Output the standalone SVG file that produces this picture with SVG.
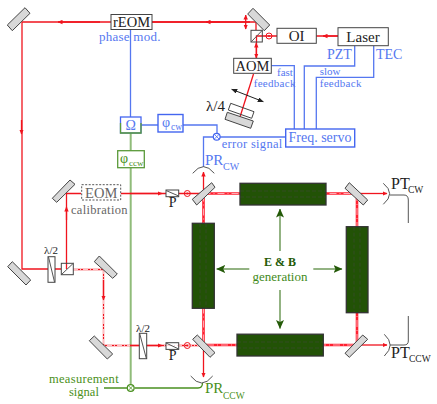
<svg xmlns="http://www.w3.org/2000/svg" width="437" height="404" viewBox="0 0 437 404">
<style>
text{font-family:"Liberation Serif","DejaVu Serif",serif}
.m{fill:#d8d8d8;stroke:#444;stroke-width:1}
.o{fill:#fff;stroke:#444;stroke-width:1}
.r{fill:none;stroke:#f0141e;stroke-width:1.3}
.rd{fill:none;stroke:#ffd0d4;stroke-width:.9;stroke-dasharray:5 2 1 2}
.ring{fill:none;stroke:#ff2030;stroke-width:2.6}
.ringd{fill:none;stroke:#ffb8c0;stroke-width:.9;stroke-dasharray:7 3 1 3}
.b{fill:none;stroke:#5577f0;stroke-width:1.3}
.bb{fill:#fff;stroke:#4466f0;stroke-width:1.4}
.g{fill:none;stroke:#4a9020;stroke-width:1.3}
.gl{fill:none;stroke:#90bc7a;stroke-width:2}
.k{fill:none;stroke:#555;stroke-width:1}
.bar{fill:#225206;stroke:#333;stroke-width:1.3}
.bd{fill:none;stroke:#3a4a30;stroke-width:.7;stroke-dasharray:4 2}
.ga{stroke:#6f9a5a;stroke-width:1.5;fill:none;marker-end:url(#ga)}
.tb{fill:#5577f0}.tg{fill:#4a9020}.tk{fill:#222}.tn{fill:#666}
</style>
<defs>
<marker id="ra" markerWidth="5" markerHeight="5" refX="4.5" refY="2.5" orient="auto-start-reverse" markerUnits="userSpaceOnUse"><path d="M0 .3L5 2.5L0 4.7z" fill="#f0141e"/></marker>
<marker id="ka" markerWidth="6" markerHeight="5" refX="5.5" refY="2.5" orient="auto-start-reverse" markerUnits="userSpaceOnUse"><path d="M0 0L6 2.5L0 5z" fill="#222"/></marker>
<marker id="ga" markerWidth="9" markerHeight="9" refX="8.5" refY="4.5" orient="auto" markerUnits="userSpaceOnUse"><path d="M0 .5L9 4.5L0 8.5L2 4.5z" fill="#245a08"/></marker>
</defs>
<g id="connectors">
<path class="gl" d="M130.7 133V388"/>
<path class="b" d="M130.5 29V117M141 125H158M183 125H217V133M285.7 137H220M213 137H203.5V167"/>
<path class="b" d="M271.3 65.7H294.3V130M354.7 45.7V66H304.3V130M373.7 45.7V77.3H316.3V130"/>
<path class="g" d="M104 388H127M134.5 388H198Q202.5 388 202.5 383"/>
<path class="r" d="M250 22H22V269H61M338 36H256.5V58" />
<path class="r" d="M256 22H152M256 22V30"/>
<path class="r" d="M66.5 269V193.5H81M120.7 193.5H166M178.7 193.5H203.5"/>
<path class="r" d="M73 269.5H103.5V345.5H139M147 345.5H166M178.7 345.5H203.5"/>
<path class="rd" d="M73 269.5H103.5V345.5H203"/>
<path class="r" d="M253.5 74L240 117"/>
<path class="ring" d="M203.5 193.5H357V345H203.5Z"/>
<path class="ringd" d="M203.5 193.5H357V345H203.5Z"/>
<path class="r" d="M203.5 193.5V172" marker-end="url(#ra)"/>
<path class="r" d="M357 193.5H387" marker-end="url(#ra)"/>
<path class="r" d="M357 345H387" marker-end="url(#ra)"/>
<path class="r" d="M203.5 345V377" marker-end="url(#ra)"/>
<path d="M338 36H323" class="r" marker-end="url(#ra)"/>
<path d="M100 22H58" class="r" marker-end="url(#ra)"/>
<path d="M220 22H206" class="r" marker-end="url(#ra)"/>
<path d="M21.5 120V134" class="r" marker-end="url(#ra)"/>
<path d="M66.5 220V207" class="r" marker-end="url(#ra)"/>
<path d="M103.5 280V300" class="r" marker-end="url(#ra)"/>
<path d="M130 193.5H162" class="r" marker-end="url(#ra)"/>
<path d="M130 345.5H162" class="r" marker-end="url(#ra)"/>
<path d="M245.7 15V29" class="r" marker-start="url(#ra)" marker-end="url(#ra)"/>
<path d="M256.3 43V58" class="r" marker-start="url(#ra)" marker-end="url(#ra)"/>
<path d="M231.7 89.3L263.3 101.7" stroke="#222" stroke-width="1" fill="none" marker-start="url(#ka)" marker-end="url(#ka)"/>
<path class="k" d="M192.7 173.3Q203.5 160 214.3 173.3"/>
<path class="k" d="M190.7 376Q201.7 390 212.7 376"/>
<path class="k" d="M383.3 183.3Q396 193.5 383.3 204.3M390 195H404Q408.3 195 408.3 200V223"/>
<path class="k" d="M384.3 334.3Q396 345 384.3 356M390 345H404Q408.3 345 408.3 341V316"/>
<path class="ga" d="M280 251V209"/>
<path class="ga" d="M280 290V328.5"/>
<path class="ga" d="M249.3 269H216.7"/>
<path class="ga" d="M313.3 269H342"/>
</g>
<g id="mirrors">
<polygon class="m" points="7.3,25 25,7.7 30,13.3 12.3,30.7"/>
<polygon class="m" points="247.7,14 253,8.3 269.7,25 264.3,30.7"/>
<polygon class="m" points="227.3,112.3 253.3,121 250.7,128.3 225,119.3"/>
<polygon class="m" points="52.3,198.3 70,180 75,184.3 56.7,202.3"/>
<polygon class="m" points="7.7,266.7 12.3,261.7 30.7,280 26,285"/>
<polygon class="m" points="94.3,261.7 99.3,256 117.3,274 112.7,278.3"/>
<polygon class="m" points="89.3,340.7 94.3,336 112.7,354 107.3,359"/>
<polygon class="m" points="192.3,199.3 211.7,182.7 215,187.3 196.7,205"/>
<polygon class="m" points="345,188.3 349.3,182.7 367.7,200 363.3,205"/>
<polygon class="m" points="345,353.3 362.7,335 367.7,339.3 349.3,357.3"/>
<polygon class="m" points="192.7,339.3 197.3,335 215,352.7 210,357.3"/>
</g>
<g id="optics">
<g fill="none"><rect class="o" x="251" y="30.3" width="11.3" height="11.7" style="fill:none"/><path class="k" d="M251 42L262.3 30.3"/>
<rect class="o" x="61.3" y="263.3" width="12" height="11.4" style="fill:none"/><path class="k" d="M61.3 274.7L73.3 263.3"/></g>
<polygon class="o" points="230.7,103.3 254,111.7 251.7,118.3 228.3,110" style="fill:none"/>
<rect class="o" x="48" y="256.7" width="7" height="25.6"/><path class="k" d="M48.5 257L54.5 282"/>
<rect class="o" x="139.3" y="333.3" width="7.4" height="25.4"/><path class="k" d="M139.8 334L146.2 358"/>
<rect class="o" x="166" y="190" width="12.7" height="6.7" style="fill:none"/><path class="k" d="M166 190.5L178.7 196"/>
<rect class="o" x="166" y="342.7" width="12.7" height="6.7" style="fill:none"/><path class="k" d="M166 343L178.7 349"/>
<g fill="none" stroke="#f0141e" stroke-width="1"><circle cx="269" cy="36" r="3"/><circle cx="187.3" cy="193.5" r="3"/><circle cx="187.3" cy="345.5" r="3"/></g>
<g fill="#f0141e"><circle cx="269" cy="36" r="1"/><circle cx="187.3" cy="193.5" r="1"/><circle cx="187.3" cy="345.5" r="1"/></g>
</g>
<g id="rEOM"><rect class="o" x="111" y="14.5" width="41" height="15"/><text x="131.5" y="27" font-size="14.5" text-anchor="middle" class="tk">rEOM</text></g>
<text x="99" y="41" font-size="13" class="tb" letter-spacing=".25">phase mod.</text>
<g id="OI"><rect class="o" x="277" y="28.3" width="39.3" height="15"/><text x="296.7" y="41" font-size="15" text-anchor="middle" class="tk">OI</text></g>
<g id="Laser"><rect class="o" x="338" y="27.7" width="50.3" height="18"/><text x="363" y="42" font-size="15" text-anchor="middle" class="tk">Laser</text></g>
<g id="AOM"><rect class="o" x="233.7" y="58.3" width="37.6" height="15"/><text x="252.5" y="71" font-size="14.5" text-anchor="middle" class="tk">AOM</text></g>
<g id="FreqServo"><rect class="bb" x="285.7" y="129" width="69" height="18"/><text x="320" y="142" font-size="14" text-anchor="middle" class="tb">Freq. servo</text></g>
<g id="Omega"><rect x="120.5" y="117" width="20.5" height="16" fill="#fff" stroke="#4466f0" stroke-width="1.3"/><path d="M120.5 123V133H141V123" stroke="#5a9a3a" stroke-width="1.3" fill="none"/><text x="130.7" y="130" font-size="14" text-anchor="middle" class="tb">Ω</text></g>
<g id="phiCW"><rect class="bb" x="158" y="114.5" width="25" height="17.5"/><text x="162" y="127" font-size="14" class="tb">φ</text><text x="171" y="130" font-size="9.5" class="tb">cw</text></g>
<g id="phiCCW"><rect x="117.7" y="150.7" width="26.6" height="17" fill="#fff" stroke="#5a9a3a" stroke-width="1.3"/><text x="120" y="163" font-size="14" class="tg">φ</text><text x="129" y="166" font-size="9" class="tg">ccw</text></g>
<g id="EOM"><rect x="81.7" y="184.7" width="39" height="15.3" fill="#fff" stroke="#555" stroke-width="1" stroke-dasharray="2 1.5"/><text x="101.2" y="197.5" font-size="14.5" text-anchor="middle" class="tn">EOM</text></g>
<g id="sumCW"><circle cx="216.7" cy="136.7" r="3.4" fill="#fff" stroke="#4466f0" stroke-width="1.2"/><path d="M214.3 134.3L219.1 139.1M219.1 134.3L214.3 139.1" stroke="#4466f0" stroke-width=".8"/></g>
<g id="sumCCW"><circle cx="130.7" cy="388" r="3.4" fill="#fff" stroke="#4a9020" stroke-width="1.2"/><path d="M128.3 385.6L133.1 390.4M133.1 385.6L128.3 390.4" stroke="#4a9020" stroke-width=".8"/></g>
<g id="bars">
<rect class="bar" x="240" y="183.3" width="86" height="21.7"/><path class="bd" d="M240 191H326M240 197H326"/>
<rect class="bar" x="192.3" y="223.3" width="22" height="85"/><path class="bd" d="M200 223.3V308M206 223.3V308"/>
<rect class="bar" x="346.3" y="226.7" width="21.7" height="86"/><path class="bd" d="M354 226.7V312M360 226.7V312"/>
<rect class="bar" x="237" y="334.2" width="86.3" height="21.8"/><path class="bd" d="M237 342H323M237 348H323"/>
</g>
<g id="labels">
<text x="327" y="59" font-size="14" class="tb">PZT</text>
<text x="376" y="59" font-size="14" class="tb">TEC</text>
<text x="277" y="76" font-size="11" class="tb">fast</text>
<text x="253.7" y="87" font-size="11" class="tb" letter-spacing=".3">feedback</text>
<text x="319.7" y="75" font-size="11" class="tb">slow</text>
<text x="319.7" y="87" font-size="11" class="tb" letter-spacing=".3">feedback</text>
<text x="206" y="111" font-size="15" class="tk">λ/4</text>
<text x="221.7" y="148" font-size="12.5" class="tb" letter-spacing=".3">error signal</text>
<text x="205" y="165" font-size="15" class="tb">PR</text><text x="223" y="170" font-size="10" class="tb">CW</text>
<text x="391" y="189" font-size="16" class="tk">PT</text><text x="408" y="193" font-size="9.5" class="tk">CW</text>
<text x="391" y="358" font-size="16" class="tk">PT</text><text x="409" y="362" font-size="9.5" class="tk">CCW</text>
<text x="205" y="393" font-size="15" class="tg">PR</text><text x="223" y="399" font-size="9.5" class="tg">CCW</text>
<text x="49" y="383" font-size="12.5" class="tg" letter-spacing=".3">measurement</text>
<text x="69" y="396" font-size="12.5" class="tg">signal</text>
<text x="71" y="213.5" font-size="12.5" class="tn" letter-spacing=".3">calibration</text>
<text x="172.7" y="207" font-size="14" text-anchor="middle" class="tk">P</text>
<text x="172.7" y="360" font-size="14" text-anchor="middle" class="tk">P</text>
<text x="51" y="253.5" font-size="11" text-anchor="middle" class="tk">λ/2</text>
<text x="143" y="331.5" font-size="11" text-anchor="middle" class="tk">λ/2</text>
<text x="280" y="266" font-size="12" font-weight="bold" text-anchor="middle" fill="#245a08">E &amp; B</text>
<text x="280" y="280.5" font-size="13" text-anchor="middle" fill="#3f8a20">generation</text>
</g>
</svg>
